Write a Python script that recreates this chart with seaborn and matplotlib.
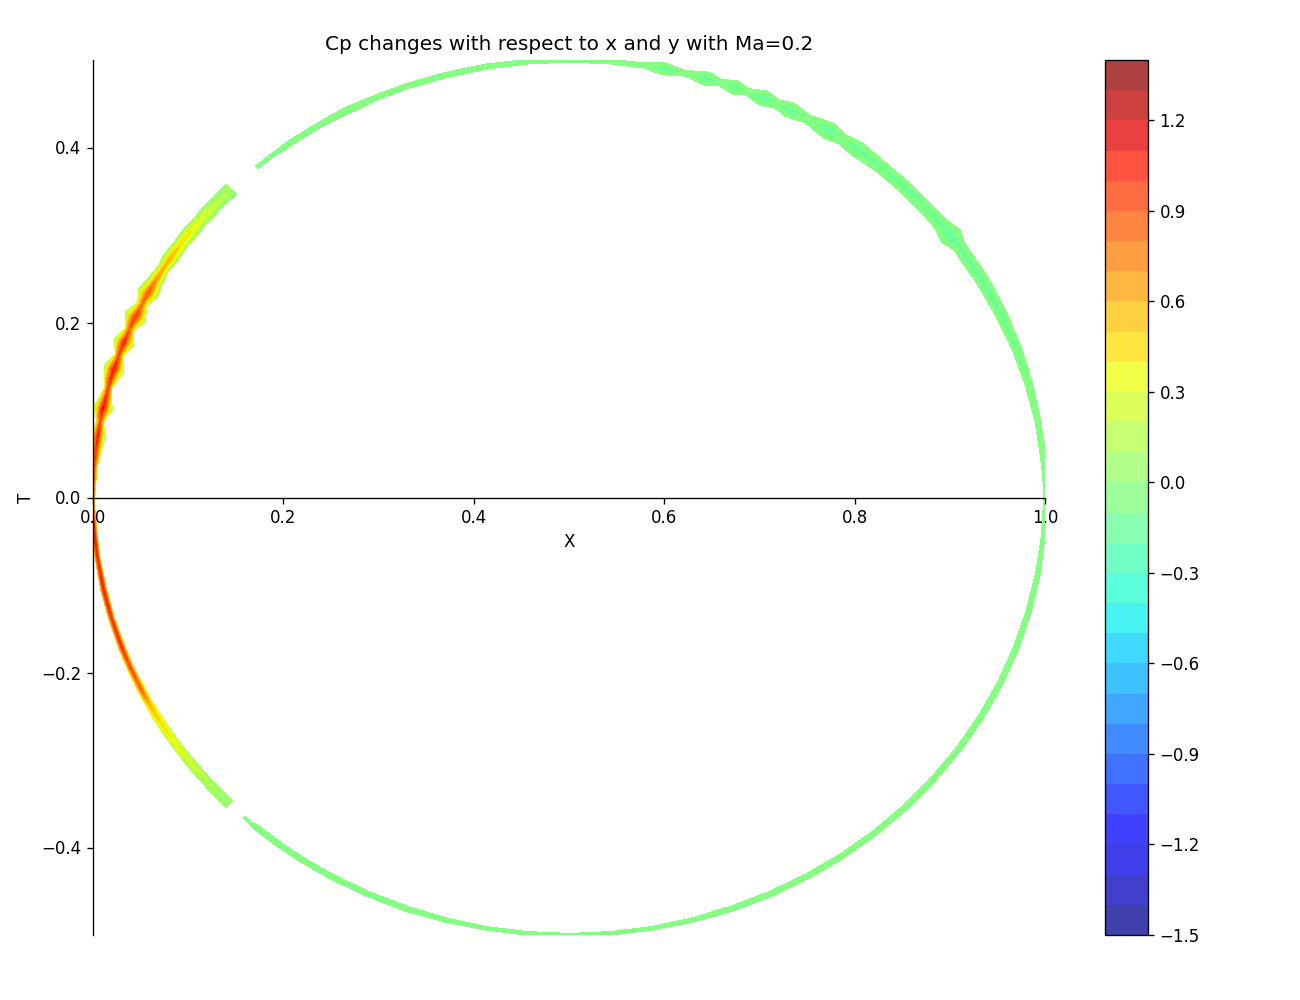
"""Cp distribution around a circular section, drawn as filled contours."""

import matplotlib

matplotlib.use("Agg")
import matplotlib.pyplot as plt
import matplotlib.tri as mtri
import numpy as np
import seaborn as sns

# Stations along the surface, angle measured from the leading edge (deg).
# Positive angles are the upper side, negative the lower side.
# Each segment: angle, half band width, Cp on the surface line, Cp at band edge.
upper_front_theta = [0.0, 4.0, 8.1, 10.0, 11.7, 14.5, 17.1, 19.0, 20.8, 22.6,
                     24.4, 26.2, 27.9, 29.7, 31.5, 33.2, 35.3, 37.0, 39.4,
                     40.9, 42.6, 44.8]
upper_front_width = [0.002, 0.003, 0.008, 0.0035, 0.010, 0.0035, 0.011,
                     0.004, 0.011, 0.0045, 0.012, 0.005, 0.011, 0.008, 0.006,
                     0.008, 0.007, 0.008, 0.007, 0.008, 0.007, 0.008]
upper_front_cp = [0.85, 0.90, 1.05, 0.92, 1.12, 0.95, 1.10, 0.92, 1.05, 0.88,
                  1.00, 0.80, 0.90, 0.72, 0.62, 0.60, 0.48, 0.42, 0.32, 0.26,
                  0.18, 0.10]
upper_front_edge = [0.45, 0.45, 0.05, 0.40, 0.05, 0.40, 0.05, 0.35, 0.05,
                    0.30, 0.05, 0.25, 0.05, 0.05, 0.10, 0.05, 0.08, 0.05,
                    0.05, 0.00, 0.00, -0.02]

upper_rear_theta = [49.0, 51.0, 54.0, 58.0, 62.0, 66.0, 70.0, 75.0, 80.0,
                    85.0, 90.0, 95.0, 99.0, 101.5, 104.0, 106.9, 108.5,
                    110.4, 112.0, 114.1, 116.0, 117.5, 120.0, 123.1, 125.0,
                    127.0, 131.0, 135.0, 139.0, 141.5, 143.3, 145.0, 150.0,
                    155.0, 160.0, 165.0, 170.0, 174.0, 177.0, 180.0]
upper_rear_width = [0.002, 0.002, 0.003, 0.003, 0.004, 0.003, 0.003, 0.003,
                    0.003, 0.0025, 0.0025, 0.0025, 0.003, 0.007, 0.003,
                    0.008, 0.004, 0.008, 0.004, 0.009, 0.005, 0.009, 0.005,
                    0.010, 0.006, 0.009, 0.007, 0.007, 0.007, 0.008, 0.012,
                    0.007, 0.007, 0.006, 0.005, 0.004, 0.003, 0.003, 0.002,
                    0.0015]
upper_rear_cp = [-0.05, -0.05, -0.05, -0.06, -0.08, -0.06, -0.06, -0.06,
                 -0.05, -0.05, -0.05, -0.06, -0.06, -0.15, -0.06, -0.15,
                 -0.08, -0.15, -0.08, -0.16, -0.08, -0.15, -0.08, -0.15,
                 -0.08, -0.14, -0.12, -0.14, -0.12, -0.14, -0.15, -0.13,
                 -0.14, -0.13, -0.12, -0.10, -0.08, -0.06, -0.05, -0.05]
upper_rear_edge = [-0.03] * len(upper_rear_theta)

lower_front_theta = [0.0, -2.0, -5.0, -8.0, -12.0, -16.0, -20.0, -23.0,
                     -26.0, -28.0, -30.0, -32.0, -34.0, -37.0, -40.0, -42.0,
                     -44.5]
lower_front_width = [0.0015, 0.002, 0.0025, 0.0025, 0.003, 0.003, 0.0035,
                     0.0035, 0.004, 0.004, 0.0045, 0.0045, 0.0045, 0.005,
                     0.005, 0.005, 0.005]
lower_front_cp = [0.85, 1.05, 1.10, 1.05, 1.10, 1.00, 1.02, 0.92, 0.88,
                  0.62, 0.52, 0.45, 0.38, 0.28, 0.18, 0.10, 0.05]
lower_front_edge = [0.45, 0.50, 0.50, 0.50, 0.50, 0.48, 0.45, 0.40, 0.35,
                    0.30, 0.25, 0.20, 0.15, 0.10, 0.05, 0.00, 0.00]

lower_rear_theta = [-47.0, -48.0, -49.0, -52.0, -56.0, -60.0, -65.0, -70.0,
                    -75.0, -80.0, -85.0, -90.0, -95.0, -100.0, -105.0,
                    -110.0, -115.0, -120.0, -125.0, -130.0, -135.0, -140.0,
                    -145.0, -150.0, -155.0, -160.0, -165.0, -170.0, -175.0,
                    -180.0]
lower_rear_width = [0.0015, 0.0015, 0.003, 0.003, 0.003, 0.003, 0.003,
                    0.003, 0.0025, 0.002, 0.002, 0.0018, 0.002, 0.002,
                    0.0025, 0.003, 0.003, 0.003, 0.003, 0.003, 0.003, 0.003,
                    0.003, 0.003, 0.003, 0.003, 0.0028, 0.0025, 0.002,
                    0.0015]
lower_rear_cp = [-0.03, -0.03, -0.05, -0.05, -0.05, -0.05, -0.05, -0.05,
                 -0.05, -0.05, -0.06, -0.15, -0.06, -0.05, -0.05, -0.05,
                 -0.05, -0.05, -0.05, -0.05, -0.05, -0.05, -0.05, -0.05,
                 -0.05, -0.05, -0.05, -0.05, -0.05, -0.05]
lower_rear_edge = [-0.03] * len(lower_rear_theta)

segments = [
    (upper_front_theta, upper_front_width, upper_front_cp, upper_front_edge),
    (upper_rear_theta, upper_rear_width, upper_rear_cp, upper_rear_edge),
    (lower_front_theta, lower_front_width, lower_front_cp, lower_front_edge),
    (lower_rear_theta, lower_rear_width, lower_rear_cp, lower_rear_edge),
]

radius = 0.5
centre_x = 0.5

# Build a thin triangulated band (inner edge, surface line, outer edge)
# around each surface segment.
xs, ys, vals, triangles = [], [], [], []
for theta, width, cp, edge in segments:
    start = len(xs)
    for t, w, c, e in zip(theta, width, cp, edge):
        a = np.radians(t)
        for r, v in ((radius - w, e), (radius, c), (radius + w, e)):
            xs.append(centre_x - r * np.cos(a))
            ys.append(r * np.sin(a))
            vals.append(v)
    for i in range(len(theta) - 1):
        p = start + 3 * i
        q = p + 3
        for k in range(2):
            triangles.append([p + k, p + k + 1, q + k + 1])
            triangles.append([p + k, q + k + 1, q + k])

tri = mtri.Triangulation(np.array(xs), np.array(ys), np.array(triangles))

sns.set_style("ticks", {
    "axes.edgecolor": "black",
    "axes.labelcolor": "black",
    "text.color": "black",
    "xtick.color": "black",
    "ytick.color": "black",
})
plt.rcParams["font.family"] = ["DejaVu Sans"]
plt.rcParams.update({
    "font.size": 12,
    "axes.titlesize": 14.4,
    "axes.titlepad": 7.2,
    "axes.linewidth": 0.96,
    "xtick.major.size": 4.2,
    "ytick.major.size": 4.2,
    "xtick.major.width": 0.96,
    "ytick.major.width": 0.96,
    "xtick.major.pad": 4.2,
    "ytick.major.pad": 4.2,
})

fig = plt.figure(figsize=(13, 10), dpi=100)
ax = fig.add_axes([0.0715, 0.065, 0.7325, 0.875])
cax = fig.add_axes([0.85, 0.065, 0.033, 0.875])

levels = np.round(np.linspace(-1.5, 1.4, 30), 2)
# Two stacked translucent layers, as in the source figure.
cs = ax.tricontourf(tri, np.array(vals), levels=levels, cmap="jet", alpha=0.75)
ax.tricontourf(tri, np.array(vals), levels=levels, cmap="jet", alpha=0.75)

ax.set_xlim(0, 1)
ax.set_ylim(-0.5, 0.5)
ax.spines["left"].set_position("zero")
ax.spines["bottom"].set_position("zero")
ax.spines["top"].set_visible(False)
ax.spines["right"].set_visible(False)

ax.set_xlabel("X")
ax.set_ylabel("T")
ax.set_title("Cp changes with respect to x and y with Ma=0.2")

cbar = fig.colorbar(cs, cax=cax)
cbar.set_ticks(np.round(np.arange(-1.5, 1.3, 0.3), 1))

fig.savefig("out.png", dpi=100, facecolor="white")
plt.close(fig)
